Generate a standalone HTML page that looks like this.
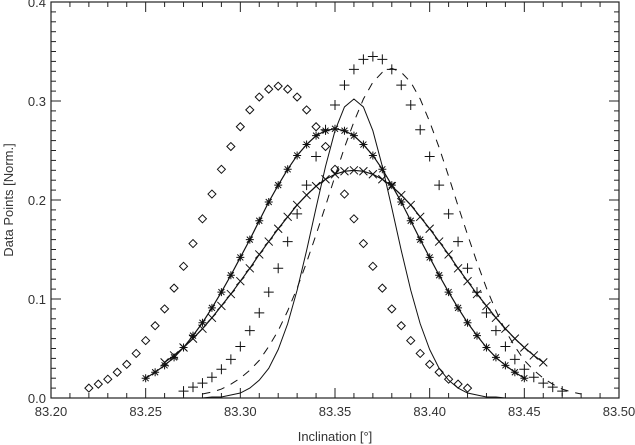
<!DOCTYPE html>
<html><head><meta charset="utf-8"><style>
html,body{margin:0;padding:0;background:#fff;}
svg{display:block;font-family:"Liberation Sans",sans-serif;}
</style></head><body>
<svg id="chart" width="635" height="445" viewBox="0 0 635 445" xmlns="http://www.w3.org/2000/svg">
<rect x="0" y="0" width="635" height="445" fill="#fff"/>
<g id="axes"></g>
<g id="series"></g>
<text x="335" y="441" font-size="13" fill="#333" text-anchor="middle">Inclination [°]</text>
<text transform="translate(13,200) rotate(-90)" font-size="13" fill="#333" text-anchor="middle">Data Points [Norm.]</text>
</svg>
<script>
const xTickLabels = ["83.20","83.25","83.30","83.35","83.40","83.45","83.50"];
const yTickLabels = ["0.0","0.1","0.2","0.3","0.4"];
const xStep = 0.005;
const diamondX0 = 83.22;
const diamondVals = [.010,.014,.019,.026,.034,.045,.058,.073,.090,.111,.133,.156,.181,.206,.231,.254,.274,.291,.304,.312,.315,.312,.304,.291,.274,.254,.231,.206,.181,.156,.133,.111,.090,.073,.058,.045,.034,.026,.019,.014,.010];
const asteriskX0 = 83.25;
const asteriskVals = [.020,.026,.033,.041,.051,.063,.076,.091,.107,.124,.142,.160,.179,.198,.215,.231,.245,.256,.265,.270,.272,.270,.265,.256,.245,.231,.215,.198,.179,.160,.142,.124,.107,.091,.076,.063,.051,.041,.033,.026,.020];
const crossX0 = 83.26;
const crossVals = [.036,.043,.051,.060,.070,.081,.093,.105,.118,.131,.145,.158,.171,.183,.195,.205,.214,.221,.226,.229,.230,.229,.226,.221,.214,.205,.195,.183,.171,.158,.145,.131,.118,.105,.093,.081,.070,.060,.051,.043,.036];
const plusX0 = 83.27;
const plusVals = [.007,.011,.015,.021,.029,.039,.052,.068,.086,.107,.131,.158,.186,.215,.244,.271,.296,.316,.332,.342,.345,.342,.332,.316,.296,.271,.244,.215,.186,.158,.131,.107,.086,.068,.052,.039,.029,.021,.015,.011,.007];
const solidX0 = 83.26;
const solidVals = [0,0,0,0,0,.001,.001,.003,.005,.010,.018,.030,.049,.075,.109,.149,.192,.234,.270,.294,.302,.294,.270,.234,.192,.149,.109,.075,.049,.030,.018,.010,.005,.003,.001,.001,0,0,0,0,0];
const dashedX0 = 83.28;
const dashedVals = [.004,.006,.009,.014,.020,.028,.038,.052,.068,.088,.111,.137,.165,.194,.224,.253,.279,.302,.319,.329,.333,.329,.319,.302,.279,.253,.224,.194,.165,.137,.111,.088,.068,.052,.038,.028,.020,.014,.009,.006,.004];

const NS="http://www.w3.org/2000/svg";
const L=51,R=619,T=2,B=398, XMIN=83.20, XMAX=83.50, YMAX=0.4;
function sx(v){return L+(v-XMIN)/(XMAX-XMIN)*(R-L);}
function sy(v){return B-v/YMAX*(B-T);}
function mk(tag,attrs,parent){const e=document.createElementNS(NS,tag);for(const k in attrs)e.setAttribute(k,attrs[k]);parent.appendChild(e);return e;}
const axes=document.getElementById('axes');
const ser=document.getElementById('series');
const frame=mk('rect',{x:L,y:T,width:R-L,height:B-T,fill:'none',stroke:'#222','stroke-width':1.2},axes);


// x ticks
for(let i=0;i<=30;i++){
  const v=XMIN+i*0.01, x=sx(v), len=(i%5===0)?10:5;
  const t1=mk('line',{x1:x,x2:x,y1:B,y2:B-len,stroke:'#222','stroke-width':1},axes);
  
  
  const t2=mk('line',{x1:x,x2:x,y1:T,y2:T+len,stroke:'#222','stroke-width':1},axes);
  
  
}
xTickLabels.forEach((s,i)=>{
  const t=mk('text',{x:sx(XMIN+i*0.05),y:416,'font-size':13,fill:'#333','text-anchor':'middle'},axes);
  t.textContent=s;
  
  
});
// y ticks
for(let i=0;i<=40;i++){
  const v=i*0.01, y=sy(v), len=(i%10===0)?10:5;
  const t1=mk('line',{x1:L,x2:L+len,y1:y,y2:y,stroke:'#222','stroke-width':1},axes);
  
  
  const t2=mk('line',{x1:R,x2:R-len,y1:y,y2:y,stroke:'#222','stroke-width':1},axes);
  
  
}
yTickLabels.forEach((s,i)=>{
  const t=mk('text',{x:46,y:sy(i*0.1)+5,'font-size':13,fill:'#333','text-anchor':'end'},axes);
  t.textContent=s;
  
  
});
function pts(x0,vals){return vals.map((v,i)=>[sx(x0+i*xStep),sy(v)]);}
function line(x0,vals,name,dash,w){
  const p=mk('polyline',{points:pts(x0,vals).map(q=>q.join(',')).join(' '),fill:'none',stroke:'#111','stroke-width':w||1,'stroke-dasharray':dash||'none'},ser);
  
  
}
function markers(x0,vals,name,shape){
  const g=mk('g',{stroke:'#111','stroke-width':1,fill:'none'},ser);
  
  
  pts(x0,vals).forEach(([x,y])=>{
    let d;
    if(shape==='diamond')d=`M${x-4},${y}L${x},${y-4}L${x+4},${y}L${x},${y+4}Z`;
    else if(shape==='plus')d=`M${x-5},${y}H${x+5}M${x},${y-5}V${y+5}`;
    else if(shape==='cross')d=`M${x-4},${y-4}L${x+4},${y+4}M${x-4},${y+4}L${x+4},${y-4}`;
    else d=`M${x-4},${y}H${x+4}M${x},${y-4}V${y+4}M${x-3},${y-3}L${x+3},${y+3}M${x-3},${y+3}L${x+3},${y-3}`;
    const m=mk('path',{d:d},g);
    
    
  });
}
line(solidX0,solidVals,'solid-curve',null,1);
line(dashedX0,dashedVals,'dashed-curve','8,7',1);
line(asteriskX0,asteriskVals,'asterisk-line',null,1.2);
line(crossX0,crossVals,'cross-line',null,1.2);
markers(diamondX0,diamondVals,'diamond-series','diamond');
markers(asteriskX0,asteriskVals,'asterisk-series','asterisk');
markers(crossX0,crossVals,'cross-series','cross');
markers(plusX0,plusVals,'plus-series','plus');
</script>
</body></html>
